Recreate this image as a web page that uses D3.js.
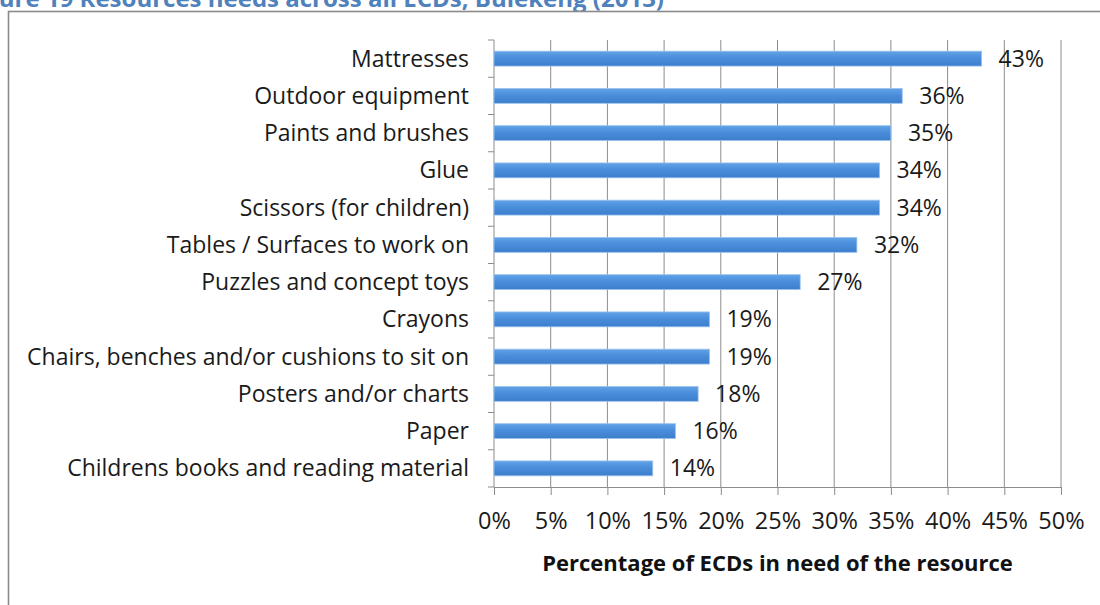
<!DOCTYPE html>
<html>
<head>
<meta charset="utf-8">
<script src="https://cdn.jsdelivr.net/npm/d3@7"></script>
<style>
  html, body { margin: 0; padding: 0; background: #fff; }
  svg { display: block; font-family: "Open Sans", "Noto Sans", sans-serif; }
</style>
</head>
<body>
<svg id="chart" width="1100" height="605"></svg>
<script>
// Resource categories, top to bottom
const categories = [
  "Mattresses",
  "Outdoor equipment",
  "Paints and brushes",
  "Glue",
  "Scissors (for children)",
  "Tables / Surfaces to work on",
  "Puzzles and concept toys",
  "Crayons",
  "Chairs, benches and/or cushions to sit on",
  "Posters and/or charts",
  "Paper",
  "Childrens books and reading material"
];
// Share of ECDs needing each resource (%)
const shares = [43, 36, 35, 34, 34, 32, 27, 19, 19, 18, 16, 14];
// Axis ticks (%)
const xTicks = [0, 5, 10, 15, 20, 25, 30, 35, 40, 45, 50];

const titleText = "Figure 19 Resources needs across all ECDs, Bulekeng (2013)";
const axisTitle = "Percentage of ECDs in need of the resource";

const FONT = "'Open Sans', 'Noto Sans', sans-serif";
const svg = d3.select("#chart");

// Figure caption (runs off the top edge of the page)
svg.append("text")
  .attr("x", 664).attr("y", 6.5)
  .attr("text-anchor", "end")
  .attr("font-family", FONT)
  .attr("font-weight", 700)
  .attr("font-size", 24)
  .attr("fill", "#4f81bd")
  .text(titleText);

// Chart frame
svg.append("rect")
  .attr("x", 8.5).attr("y", 11.5)
  .attr("width", 1100).attr("height", 700)
  .attr("fill", "#fff")
  .attr("stroke", "#8a8a8a")
  .attr("stroke-width", 1.6);

const plot = { left: 494, right: 1061, top: 40, bottom: 487 };

const x = d3.scaleLinear().domain([0, 50]).range([plot.left, plot.right]);
const y = d3.scaleBand().domain(categories)
  .range([plot.top, plot.bottom])
  .paddingInner(0.6).paddingOuter(0.3);

// Bar fill gradient
const defs = svg.append("defs");
const grad = defs.append("linearGradient")
  .attr("id", "barGrad").attr("x1", 0).attr("y1", 0).attr("x2", 0).attr("y2", 1);
grad.append("stop").attr("offset", "0%").attr("stop-color", "#62a2e6");
grad.append("stop").attr("offset", "45%").attr("stop-color", "#4a8edb");
grad.append("stop").attr("offset", "100%").attr("stop-color", "#3c7ecb");

// Vertical gridlines
svg.append("g")
  .selectAll("line")
  .data(xTicks.filter(d => d > 0))
  .join("line")
  .attr("x1", d => x(d)).attr("x2", d => x(d))
  .attr("y1", plot.top).attr("y2", plot.bottom)
  .attr("stroke", "#8c8c8c")
  .attr("stroke-width", 1);

// x axis
const xAxis = svg.append("g")
  .attr("transform", `translate(0,${plot.bottom})`)
  .call(d3.axisBottom(x).tickValues(xTicks).tickFormat(d => d + "%")
    .tickSize(8).tickPadding(17).tickSizeOuter(0));
xAxis.select(".domain").attr("stroke", "#8c8c8c");
xAxis.selectAll(".tick line").attr("stroke", "#8c8c8c");
xAxis.selectAll(".tick text")
  .attr("font-family", FONT)
  .attr("font-size", 23.5)
  .attr("fill", "#1a1a1a");

// y axis line and category-boundary ticks
svg.append("line")
  .attr("x1", plot.left).attr("x2", plot.left)
  .attr("y1", plot.top).attr("y2", plot.bottom)
  .attr("stroke", "#8c8c8c");
svg.append("g")
  .selectAll("line")
  .data(d3.range(categories.length + 1))
  .join("line")
  .attr("x1", plot.left - 6).attr("x2", plot.left)
  .attr("y1", i => plot.top + i * y.step())
  .attr("y2", i => plot.top + i * y.step())
  .attr("stroke", "#8c8c8c");

// Category labels
svg.append("g")
  .selectAll("text")
  .data(categories)
  .join("text")
  .attr("x", plot.left - 25)
  .attr("y", d => y(d) + y.bandwidth() / 2)
  .attr("dy", "0.35em")
  .attr("text-anchor", "end")
  .attr("font-family", FONT)
  .attr("font-size", 23)
  .attr("fill", "#1a1a1a")
  .text(d => d);

// Bars
svg.append("g")
  .selectAll("rect")
  .data(categories.map((c, i) => ({ c, v: shares[i] })))
  .join("rect")
  .attr("x", x(0))
  .attr("y", d => y(d.c))
  .attr("width", d => x(d.v) - x(0))
  .attr("height", y.bandwidth())
  .attr("fill", "url(#barGrad)")
  .attr("stroke", "#9cc3ee")
  .attr("stroke-width", 0.8);

// Value labels
svg.append("g")
  .selectAll("text")
  .data(categories.map((c, i) => ({ c, v: shares[i] })))
  .join("text")
  .attr("x", d => x(d.v) + 17)
  .attr("y", d => y(d.c) + y.bandwidth() / 2)
  .attr("dy", "0.35em")
  .attr("font-family", FONT)
  .attr("font-size", 23)
  .attr("fill", "#1a1a1a")
  .text(d => d.v + "%");

// Axis title
svg.append("text")
  .attr("x", (plot.left + plot.right) / 2)
  .attr("y", 571)
  .attr("text-anchor", "middle")
  .attr("font-family", FONT)
  .attr("font-size", 22)
  .attr("font-weight", 700)
  .attr("fill", "#111")
  .text(axisTitle);
</script>
</body>
</html>
